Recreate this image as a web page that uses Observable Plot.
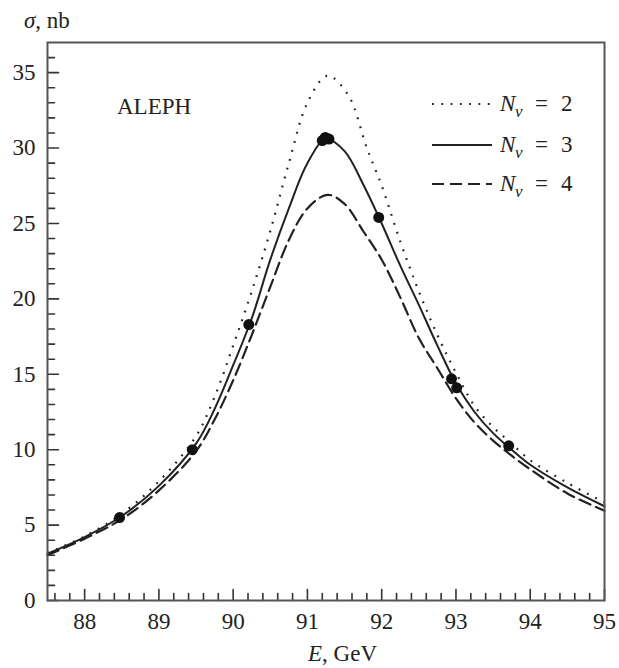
<!DOCTYPE html>
<html><head><meta charset="utf-8">
<script src="https://cdn.jsdelivr.net/npm/d3@7"></script>
<script src="https://cdn.jsdelivr.net/npm/@observablehq/plot@0.6"></script>
<style>
body{margin:0;background:#fff;}
#chart{width:619px;height:668px;}
svg text{font-family:"Liberation Serif","DejaVu Serif",serif;}
</style>
</head><body><div id="chart"></div>
<script>
// N_nu = 2 (dotted)
const energyN2 = [87.5, 88.0, 88.5, 89.0, 89.5, 89.75, 90.0, 90.25, 90.5, 90.75, 91.0, 91.27, 91.55, 91.8, 92.0, 92.25, 92.5, 92.75, 93.0, 93.25, 93.5, 93.75, 94.0, 94.5, 95.0];
const sigmaN2  = [3.15, 4.25, 5.75, 7.9, 10.9, 13.5, 16.9, 20.5, 24.5, 29.0, 33.0, 34.8, 33.5, 30.0, 27.5, 23.8, 20.5, 17.6, 15.1, 12.9, 11.5, 10.4, 9.3, 7.8, 6.5];
// N_nu = 3 (solid)
const energyN3 = [87.5, 88.0, 88.5, 89.0, 89.5, 89.75, 90.0, 90.25, 90.5, 90.75, 91.0, 91.25, 91.5, 91.75, 92.0, 92.25, 92.5, 92.75, 93.0, 93.25, 93.5, 93.75, 94.0, 94.5, 95.0];
const sigmaN3  = [3.1, 4.2, 5.6, 7.6, 10.4, 12.7, 15.6, 18.7, 22.6, 26.0, 29.0, 30.6, 29.8, 27.6, 25.0, 22.2, 19.6, 16.9, 14.4, 12.5, 11.1, 10.0, 9.0, 7.5, 6.25];
// N_nu = 4 (dashed)
const energyN4 = [87.5, 88.0, 88.5, 89.0, 89.5, 89.75, 90.0, 90.25, 90.5, 90.75, 91.0, 91.27, 91.5, 91.75, 92.0, 92.25, 92.5, 92.75, 93.0, 93.25, 93.5, 93.75, 94.0, 94.5, 95.0];
const sigmaN4  = [3.0, 4.1, 5.4, 7.3, 9.9, 12.0, 14.6, 17.6, 20.8, 23.9, 26.0, 26.9, 26.3, 24.5, 22.6, 20.1, 17.4, 15.4, 13.4, 11.8, 10.6, 9.6, 8.7, 7.1, 5.95];
// ALEPH measurements
const dataEnergy = [88.47, 89.45, 90.21, 91.20, 91.24, 91.29, 91.96, 92.94, 93.01, 93.71];
const dataSigma  = [5.5, 10.0, 18.3, 30.5, 30.7, 30.6, 25.4, 14.7, 14.1, 10.26];
// ticks
const xMajorTicks = [88, 89, 90, 91, 92, 93, 94, 95];
const xMinorTicks = d3.range(87.6, 95, 0.2).map(v => +v.toFixed(1)).filter(v => !Number.isInteger(v));
const yMajorTicks = [0, 5, 10, 15, 20, 25, 30, 35];
const yMinorTicks = d3.range(1, 37).filter(v => v % 5 !== 0);
const legendLabels = ["2", "3", "4"];

const toRows = (E, S) => E.map((e, i) => ({e, s: S[i]}));
const n2 = toRows(energyN2, sigmaN2);
const n3 = toRows(energyN3, sigmaN3);
const n4 = toRows(energyN4, sigmaN4);
const pts = toRows(dataEnergy, dataSigma);

const tickShape = {draw(ctx, l) { ctx.moveTo(0, 0); ctx.lineTo(0, -l); }};
const ink = "#222";
const FS = 23;

const chart = Plot.plot({
  width: 619,
  height: 668,
  marginLeft: 47,
  marginRight: 15,
  marginTop: 42,
  marginBottom: 68,
  style: {fontFamily: "Liberation Serif, serif", fontSize: FS + "px", color: "#222", background: "#fff"},
  x: {domain: [87.5, 95]},
  y: {domain: [0, 37]},
  marks: [
    Plot.line(n2, {x: "e", y: "s", curve: "catmull-rom", stroke: ink, strokeWidth: 2.2, strokeDasharray: "1.8,7.5", strokeLinecap: "butt"}),
    Plot.line(n4, {x: "e", y: "s", curve: "catmull-rom", stroke: ink, strokeWidth: 2.2, strokeDasharray: "12,6"}),
    Plot.line(n3, {x: "e", y: "s", curve: "catmull-rom", stroke: ink, strokeWidth: 2}),
    Plot.dot(pts, {x: "e", y: "s", r: 5.5, fill: "#111", stroke: null}),
    // inward ticks
    Plot.vector(xMajorTicks, {x: d => d, frameAnchor: "bottom", length: 11, rotate: 0, anchor: "start", shape: tickShape, stroke: "#333", strokeWidth: 1.6}),
    Plot.vector(xMinorTicks, {x: d => d, frameAnchor: "bottom", length: 7, rotate: 0, anchor: "start", shape: tickShape, stroke: "#333", strokeWidth: 1.6}),
    Plot.vector(yMajorTicks, {y: d => d, frameAnchor: "left", length: 11, rotate: 90, anchor: "start", shape: tickShape, stroke: "#333", strokeWidth: 1.6}),
    Plot.vector(yMinorTicks, {y: d => d, frameAnchor: "left", length: 7, rotate: 90, anchor: "start", shape: tickShape, stroke: "#333", strokeWidth: 1.6}),
    Plot.axisX(xMajorTicks, {tickSize: 0, tickPadding: 12, label: null, fontSize: FS}),
    Plot.axisY(yMajorTicks, {tickSize: 0, tickPadding: 12, label: null, fontSize: FS}),
    Plot.frame({stroke: "#555", strokeWidth: 2})
  ]
});
document.getElementById("chart").append(chart);

const svg = d3.select(chart);
const addText = (x, y) => svg.append("text").attr("x", x).attr("y", y)
  .attr("font-size", FS).attr("fill", "#222").attr("text-anchor", "start");
// y label
const yl = addText(24, 28);
yl.append("tspan").attr("font-style", "italic").text("σ");
yl.append("tspan").text(", nb");
// x label
const xl = addText(308, 661);
xl.append("tspan").attr("font-style", "italic").text("E");
xl.append("tspan").text(", GeV");
// ALEPH
addText(117, 114).text("ALEPH");
// legend
const legendY = [104, 145, 184];
const dashes = ["1.8,7.5", null, "12,6"];
legendLabels.forEach((lab, i) => {
  const y = legendY[i];
  svg.append("line").attr("x1", 432).attr("x2", 492).attr("y1", y).attr("y2", y)
    .attr("stroke", ink).attr("stroke-width", i === 1 ? 2 : 2.2)
    .attr("stroke-dasharray", dashes[i]);
  const t = addText(500, y + 7);
  t.append("tspan").attr("x", 500).attr("font-style", "italic").text("N");
  t.append("tspan").attr("x", 515).attr("dy", 6).attr("font-size", 17).attr("font-style", "italic").text("ν");
  t.append("tspan").attr("x", 535).attr("dy", -6).text("=");
  t.append("tspan").attr("x", 561).text(lab);
});
</script>
</body></html>
